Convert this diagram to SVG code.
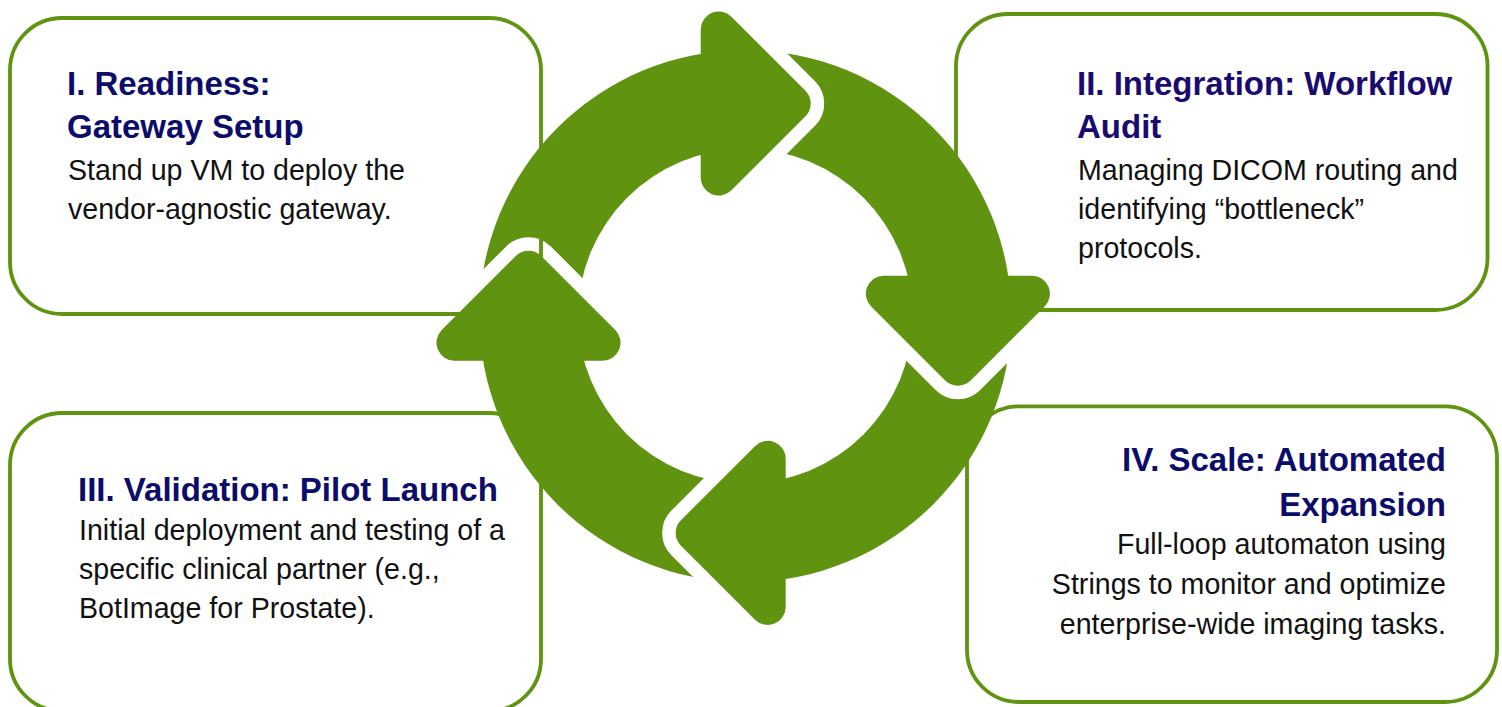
<svg xmlns="http://www.w3.org/2000/svg" xmlns:xlink="http://www.w3.org/1999/xlink" width="1502" height="707" viewBox="0 0 1502 707">
  <style>
    .box { fill: #ffffff; stroke: #5f9310; stroke-width: 3.8; }
    .title { font-family: "Liberation Sans", Arial, sans-serif; font-weight: 700; font-size: 33px; fill: #0c0c6b; }
    .title2 { fill: #1a0c6e; }
    .body { font-family: "Liberation Sans", Arial, sans-serif; font-size: 28.6px; fill: #111111; }
    .ring { fill: #5f9310; }
    .head { fill: #5f9310; }
    .cut { fill: #000000; stroke: #000000; stroke-width: 27; stroke-linejoin: round; }
  </style>
  <defs>
    <!-- arrowhead of the top arrow (points right); others are rotated copies about 743.2,318.2 -->
    <path id="head" d="M700.7,29.46 A18,18 0 0 1 731.43,16.73 L805.47,90.77 A18,18 0 0 1 805.47,116.23 L731.43,190.27 A18,18 0 0 1 700.7,177.54 Z"/>
    <!-- each tail is trimmed by the previous arrowhead plus a transparent gap -->
    <mask id="cut-left" maskUnits="userSpaceOnUse" x="0" y="0" width="1502" height="707">
      <rect width="1502" height="707" fill="#ffffff"/>
      <use xlink:href="#head" class="cut" transform="rotate(-90 743.2 318.2)"/>
    </mask>
    <mask id="cut-top" maskUnits="userSpaceOnUse" x="0" y="0" width="1502" height="707">
      <rect width="1502" height="707" fill="#ffffff"/>
      <use xlink:href="#head" class="cut"/>
    </mask>
    <mask id="cut-right" maskUnits="userSpaceOnUse" x="0" y="0" width="1502" height="707">
      <rect width="1502" height="707" fill="#ffffff"/>
      <use xlink:href="#head" class="cut" transform="rotate(90 743.2 318.2)"/>
    </mask>
    <mask id="cut-bottom" maskUnits="userSpaceOnUse" x="0" y="0" width="1502" height="707">
      <rect width="1502" height="707" fill="#ffffff"/>
      <use xlink:href="#head" class="cut" transform="rotate(180 743.2 318.2)"/>
    </mask>
  </defs>

  <g id="node-readiness">
    <rect class="box" x="10" y="18" width="531" height="296" rx="52" ry="52"/>
    <text class="title" x="67" y="95">I. Readiness:</text>
    <text class="title" x="67" y="137.5">Gateway Setup</text>
    <text class="body" x="68" y="179.5">Stand up VM to deploy the</text>
    <text class="body" x="68" y="218.5">vendor-agnostic gateway.</text>
  </g>

  <g id="node-integration">
    <rect class="box" x="956" y="14" width="531.5" height="296" rx="52" ry="52"/>
    <text class="title title2" x="1077" y="95">II. Integration: Workflow</text>
    <text class="title title2" x="1077" y="137.5">Audit</text>
    <text class="body" x="1078" y="179.5">Managing DICOM routing and</text>
    <text class="body" x="1078" y="218.5">identifying “bottleneck”</text>
    <text class="body" x="1078" y="257.5">protocols.</text>
  </g>

  <g id="node-validation">
    <rect class="box" x="10" y="413" width="531" height="298" rx="52" ry="52"/>
    <text class="title" x="78" y="500.5">III. Validation: Pilot Launch</text>
    <text class="body" x="79" y="540">Initial deployment and testing of a</text>
    <text class="body" x="79" y="579">specific clinical partner (e.g.,</text>
    <text class="body" x="79" y="618">BotImage for Prostate).</text>
  </g>

  <g id="node-scale">
    <rect class="box" x="967" y="406.3" width="530" height="295.7" rx="52" ry="52"/>
    <text class="title" x="1446" y="471" text-anchor="end">IV. Scale: Automated</text>
    <text class="title" x="1446" y="516" text-anchor="end">Expansion</text>
    <text class="body" x="1446" y="554" text-anchor="end">Full-loop automaton using</text>
    <text class="body" x="1446" y="594" text-anchor="end">Strings to monitor and optimize</text>
    <text class="body" x="1446" y="633.5" text-anchor="end">enterprise-wide imaging tasks.</text>
  </g>

  <g id="connectors">
    <!-- ring segments (bodies), each ending under its own head -->
    <path class="ring" mask="url(#cut-left)" d="M479.3,316.1 A266,266 0 0 1 745.3,50.1 L745.3,148.8 A167.3,167.3 0 0 0 578,316.1 Z"/>
    <path class="ring" mask="url(#cut-top)" d="M745.3,50.1 A266,266 0 0 1 1011.3,316.1 L912.6,316.1 A167.3,167.3 0 0 0 745.3,148.8 Z"/>
    <path class="ring" mask="url(#cut-right)" d="M1011.3,316.1 A266,266 0 0 1 745.3,582.1 L745.3,483.4 A167.3,167.3 0 0 0 912.6,316.1 Z"/>
    <path class="ring" mask="url(#cut-bottom)" d="M745.3,582.1 A266,266 0 0 1 479.3,316.1 L578,316.1 A167.3,167.3 0 0 0 745.3,483.4 Z"/>
    <!-- arrowheads -->
    <use xlink:href="#head" class="head"/>
    <use xlink:href="#head" class="head" transform="rotate(90 743.2 318.2)"/>
    <use xlink:href="#head" class="head" transform="rotate(180 743.2 318.2)"/>
    <use xlink:href="#head" class="head" transform="rotate(-90 743.2 318.2)"/>
  </g>
</svg>
